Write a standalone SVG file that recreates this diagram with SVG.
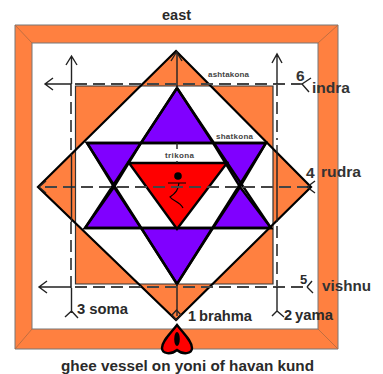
<svg xmlns="http://www.w3.org/2000/svg" width="383" height="374" viewBox="0 0 383 374">
<style>
text{font-family:"Liberation Sans",Arial,sans-serif;fill:#2a2a2a}
.b{font-weight:bold}
.s{font-weight:bold;font-size:8px;fill:#444}
.ln{font-size:15.500px;font-weight:bold;fill:#333}
.e{stroke:#000;stroke-width:2.4;stroke-linejoin:miter}
.a{fill:none;stroke:#222;stroke-width:1.4}
.d{fill:none;stroke:#444;stroke-width:1.800;stroke-dasharray:12 6}
</style>
<rect width="383" height="374" fill="#fff"/>
<g id="frame">
<path d="M15 25H338V349H15ZM32 43V329H318V43Z" fill="#ff8040" fill-rule="evenodd" stroke="#777" stroke-width="1"/>
<path d="M15 25L32 43M338 25L318 43M15 349L32 329M338 349L318 329" stroke="#b06a40" stroke-width="0.8" fill="none"/>
</g>
<g id="square-diamond">
<path d="M75.500 86H273V284H75.500ZM176 51L311 187L176 320L38 187Z" fill="#ff8040" fill-rule="evenodd"/>
<path d="M75.500 150V284H273V86H75.500V150" fill="none" stroke="#333" stroke-width="1.200"/>
<path d="M176 51L311 187L176 320L38 187Z" fill="none" stroke="#000" stroke-width="2.200"/>
</g>
<g id="shatkona">
<path d="M177 88L213 143H141Z" fill="#8000ff" class="e"/>
<path d="M87 143H141L114 187Z" fill="#8000ff" class="e"/>
<path d="M213 143H266L240 187Z" fill="#8000ff" class="e"/>
<path d="M114 187L141 228H85Z" fill="#8000ff" class="e"/>
<path d="M240 187L271 228H213Z" fill="#8000ff" class="e"/>
<path d="M141 228H213L177 284Z" fill="#8000ff" class="e"/>
<path d="M177 88L271 228H85ZM87 143H266L177 284Z" fill="none" class="e"/>
</g>
<g id="trikona">
<path d="M129 163H227L177 229Z" fill="#ff0000" class="e"/>
<circle cx="178" cy="176" r="3.800" fill="#000"/>
<path d="M168 183H186M179 183C178 190 176 193 170 197C173 201 180 202 183 208" fill="none" stroke="#000" stroke-width="1.200"/>
</g>
<g id="connectors">
<path class="a" d="M177 52V88M177 284V316M177 143V149M177 161V163"/>
<path class="a" d="M171 61L176.500 52L182 61M172 315L176.500 310L181 315L176.500 320Z" stroke-width="1"/>
<path class="d" d="M45 187H311M75 84H300M71 84V154M71 222V290M277 84V140M277 226V287M75 287H305"/>
<path class="a" d="M71.500 57V84M71.500 154V222M71.500 288V313M66 65L71.500 56L77 65M65 317L71.500 311L78 318"/>
<path class="a" d="M45 84H71M53 78L45 84L53 90M39 287H71M47 281L39 287L47 293"/>
<path class="a" d="M277 54V84M277 145V222M277 287V311M272 63L277 54L282 63M272 316L277 311L284 317"/>
<path class="a" d="M300 84H303M302 84L311 78M302 84L309 92M307 287L312 281M307 287L313 293M307 187L315 181M307 187L315 193M39 187L46 181M39 187L46 193"/>
</g>
<g id="heart">
<path d="M177 325C170 334 162 341 162 348C162 354 171 355 177 350C183 355 192 354 192 348C192 341 184 334 177 325Z" fill="#ff0000" stroke="#000" stroke-width="2.400"/>
<ellipse cx="177" cy="339" rx="2.800" ry="7" fill="#000"/>
</g>
<g id="labels">
<text x="162" y="20" class="b" font-size="14.500">east</text>
<text x="208" y="77" class="s" textLength="41">ashtakona</text>
<text x="216" y="139" class="s" textLength="37">shatkona</text>
<text x="165" y="158" class="s" textLength="29">trikona</text>
<text x="296" y="81" class="ln">6</text>
<text x="312" y="93" class="ln" textLength="38" lengthAdjust="spacingAndGlyphs">indra</text>
<text x="306" y="178" class="ln">4</text>
<text x="321" y="177" class="ln" textLength="40" lengthAdjust="spacingAndGlyphs">rudra</text>
<text x="300" y="284" class="b" font-size="13">5</text>
<text x="322" y="291" class="ln" textLength="49" lengthAdjust="spacingAndGlyphs">vishnu</text>
<text x="188" y="321" class="b" font-size="14.500">1</text>
<text x="199" y="321" class="b" font-size="14.500" textLength="53" lengthAdjust="spacingAndGlyphs">brahma</text>
<text x="284" y="320" class="b" font-size="14.500">2</text>
<text x="295" y="320" class="b" font-size="14.500" textLength="38" lengthAdjust="spacingAndGlyphs">yama</text>
<text x="77" y="314" class="b" font-size="14.500" textLength="51" lengthAdjust="spacingAndGlyphs">3 soma</text>
<text x="61" y="371" class="b" font-size="15" textLength="253" lengthAdjust="spacingAndGlyphs">ghee vessel on yoni of havan kund</text>
</g>
</svg>
